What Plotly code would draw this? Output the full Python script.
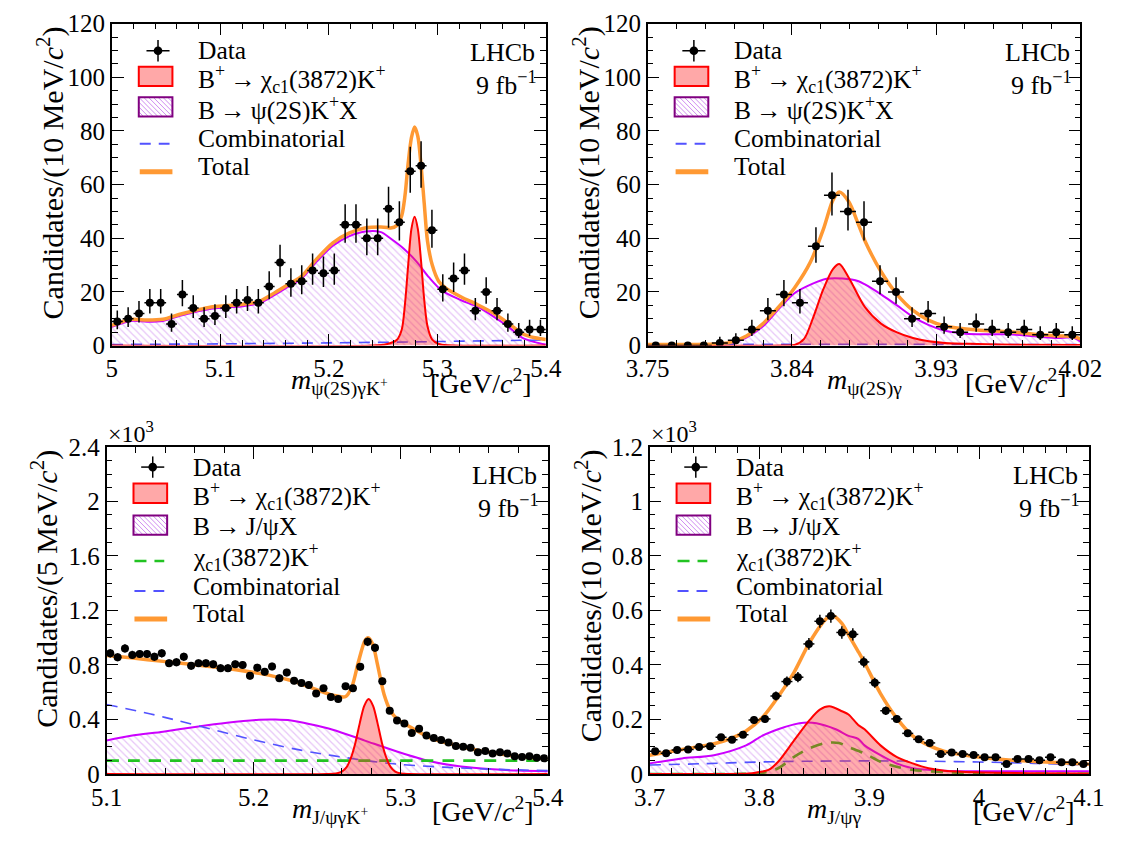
import numpy as np
import plotly.graph_objects as go

W, H = 1134, 849
SERIF = "Liberation Serif"

# ================= Top-left: m(psi(2S) gamma K+) =================
a_range = [5.0, 5.4]
a_nbins = 40
a_counts = [9, 10, 12, 16, 16, 8, 19, 14, 10, 11, 14, 16, 17, 16, 22, 31, 23, 24, 28, 27,
            28, 45, 45, 40, 40, 51, 46, 65, 67, 43, 21, 25, 28, 13, 20, 13, 8, 5, 6, 6]
a_err_hi = [4.1, 4.3, 4.6, 5.1, 5.1, 4.0, 5.4, 4.8, 4.3, 4.4, 4.8, 5.1, 5.2, 5.1, 5.7, 6.6, 5.8, 5.9, 6.3, 6.2,
            6.3, 7.7, 7.7, 7.4, 7.4, 8.2, 7.8, 9.1, 9.2, 7.6, 5.6, 6.0, 6.3, 4.7, 5.5, 4.7, 4.0, 3.4, 3.6, 3.6]
a_err_lo = [2.9, 3.1, 3.4, 4.0, 4.0, 2.8, 4.3, 3.7, 3.1, 3.3, 3.7, 4.0, 4.1, 4.0, 4.7, 5.5, 4.8, 4.9, 5.3, 5.2,
            5.3, 6.7, 6.7, 6.3, 6.3, 7.1, 6.8, 8.0, 8.2, 6.5, 4.6, 5.0, 5.3, 3.6, 4.4, 3.6, 2.8, 2.2, 2.4, 2.4]
a_mag_x = [5.000, 5.0176, 5.0324, 5.0471, 5.0619, 5.0767, 5.0915, 5.1062, 5.121, 5.1358, 5.1505, 5.1653,
           5.1742, 5.189, 5.2037, 5.2185, 5.2333, 5.248, 5.2569, 5.2688, 5.2806, 5.2924, 5.3042, 5.322,
           5.3367, 5.3515, 5.3661, 5.378, 5.39, 5.4]
a_mag_y = [7.0, 9.2, 8.9, 9.2, 11.0, 12.5, 13.7, 14.2, 14.7, 15.8, 19.0, 22.6,
           24.7, 31.4, 37.2, 40.7, 42.5, 42.3, 39.9, 36.2, 31.4, 25.4, 20.5, 16.9,
           14.5, 10.9, 6.8, 3.0, 1.3, 0.4]
a_sig_x = [5.0, 5.24, 5.2539, 5.2628, 5.2672, 5.2702, 5.2731, 5.2761, 5.279, 5.282, 5.285, 5.2879,
           5.2909, 5.2953, 5.3012, 5.31, 5.4]
a_sig_y = [0, 0, 0.6, 2.2, 6, 15.7, 30, 43.5, 48, 43.5, 31.4, 17, 7.2, 2.2, 0.6, 0.1, 0]
a_comb_x = [5.0, 5.1, 5.2, 5.3, 5.4]
a_comb_y = [0.4, 0.65, 1.0, 1.5, 2.1]
a_tot_x = [5.000, 5.0176, 5.0324, 5.0471, 5.0619, 5.0767, 5.0915, 5.1062, 5.121, 5.1358, 5.1505, 5.1653,
           5.1742, 5.189, 5.2037, 5.2185, 5.2333, 5.248, 5.2539, 5.2569, 5.2628, 5.2672, 5.2702, 5.2731,
           5.2761, 5.279, 5.282, 5.285, 5.2879, 5.2909, 5.2953, 5.3012, 5.3072, 5.322, 5.3367, 5.3515,
           5.3661, 5.378, 5.39, 5.4]
a_tot_y = [7.5, 9.8, 9.5, 9.8, 11.6, 13.1, 14.4, 14.9, 15.4, 16.5, 19.8, 23.4,
           25.6, 32.4, 38.3, 41.9, 43.8, 44.2, 44.0, 43.8, 44.8, 48.5, 56, 68,
           77.5, 81.5, 78, 67, 53, 39, 30, 24, 21.6, 18.1, 15.3, 12.1,
           8.1, 4.5, 2.9, 2.3]

# ================= Top-right: m(psi(2S) gamma) =================
b_range = [3.75, 4.02]
b_nbins = 27
b_counts = [0, 0, 0, 0, 1, 2, 6, 13, 19, 16, 37, 56, 50, 46, 24, 20, 10, 12, 7, 5, 8, 6, 5, 6, 4, 5, 4]
b_err_hi = [0, 0, 0, 0, 2.3, 2.6, 3.6, 4.7, 5.4, 5.1, 7.1, 8.5, 8.1, 7.8, 5.9, 5.5, 4.3, 4.6, 3.8, 3.4,
            4.0, 3.6, 3.4, 3.6, 3.2, 3.4, 3.2]
b_err_lo = [0, 0, 0, 0, 0.8, 1.3, 2.4, 3.6, 4.3, 4.0, 6.1, 7.5, 7.1, 6.8, 4.9, 4.4, 3.1, 3.4, 2.6, 2.2,
            2.8, 2.4, 2.2, 2.4, 1.9, 2.2, 1.9]
b_mag_x = [3.75, 3.7716, 3.7916, 3.8016, 3.8116, 3.8216, 3.8316, 3.8416, 3.8516, 3.8616, 3.8716, 3.8816,
           3.8856, 3.8956, 3.9056, 3.9156, 3.9255, 3.9355, 3.9455, 3.9555, 3.9756, 3.9955, 4.0056, 4.0155, 4.02]
b_mag_y = [0.1, 0.1, 0.2, 0.8, 3.0, 7.0, 13.5, 19.5, 22.7, 24.9, 25.0, 24.0,
           22.8, 19.1, 15.0, 10.7, 7.6, 5.5, 4.6, 4.2, 4.2, 3.2, 2.8, 3.0, 1.5]
b_sig_x = [3.75, 3.835, 3.8416, 3.8476, 3.8536, 3.8596, 3.8656, 3.8696, 3.8756, 3.8856, 3.8956, 3.9056,
           3.9156, 3.9255, 3.9355, 3.9555, 3.98, 4.02]
b_sig_y = [0, 0, 0.2, 2.5, 11.0, 21.0, 28.5, 30.4, 25.2, 14.3, 8.2, 4.9, 2.8, 1.6, 1.0, 0.6, 0.3, 0.2]
b_comb_x = [3.75, 3.9, 4.02]
b_comb_y = [0.5, 0.45, 0.4]
b_tot_x = [3.75, 3.7716, 3.7916, 3.8016, 3.8116, 3.8216, 3.8316, 3.8416, 3.8516, 3.8596, 3.8656, 3.8696,
           3.8756, 3.8816, 3.8856, 3.8956, 3.9056, 3.9156, 3.9255, 3.9355, 3.9555, 3.9756, 3.9955, 4.0056,
           4.0155, 4.02]
b_tot_y = [0.4, 0.4, 0.6, 1.2, 3.6, 8.0, 14.3, 21.5, 31.2, 43.3, 54.2, 57.2,
           53.5, 45.0, 39.0, 27.6, 19.1, 13.1, 9.4, 7.3, 5.8, 5.2, 4.0, 3.6,
           3.4, 2.5]

# ================= Bottom-left: m(J/psi gamma K+)  (x10^3) =================
c_range = [5.1, 5.4]
c_nbins = 60
c_counts = [0.885, 0.856, 0.921, 0.873, 0.880, 0.880, 0.860, 0.885, 0.812, 0.820,
            0.860, 0.793, 0.812, 0.812, 0.805, 0.776, 0.776, 0.805, 0.800, 0.720,
            0.780, 0.750, 0.788, 0.703, 0.744, 0.684, 0.667, 0.652, 0.590, 0.628,
            0.564, 0.550, 0.643, 0.628, 0.786, 0.969, 0.926, 0.681, 0.464, 0.393,
            0.371, 0.300, 0.331, 0.283, 0.264, 0.250, 0.231, 0.205, 0.200, 0.193,
            0.159, 0.169, 0.150, 0.159, 0.150, 0.131, 0.124, 0.130, 0.120, 0.115]
c_err = [0.030, 0.029, 0.030, 0.030, 0.030, 0.030, 0.029, 0.030, 0.028, 0.029,
         0.029, 0.028, 0.028, 0.028, 0.028, 0.028, 0.028, 0.028, 0.028, 0.027,
         0.028, 0.027, 0.028, 0.027, 0.027, 0.026, 0.026, 0.026, 0.024, 0.025,
         0.024, 0.023, 0.025, 0.025, 0.028, 0.031, 0.030, 0.026, 0.022, 0.020,
         0.019, 0.017, 0.018, 0.017, 0.016, 0.016, 0.015, 0.014, 0.014, 0.014,
         0.013, 0.013, 0.012, 0.013, 0.012, 0.011, 0.011, 0.011, 0.011, 0.011]
c_mag_x = [5.1, 5.1165, 5.1384, 5.1601, 5.1819, 5.2037, 5.2146, 5.2255, 5.2386, 5.2538, 5.2756, 5.2974,
           5.3192, 5.341, 5.3627, 5.38, 5.4]
c_mag_y = [0.245, 0.28, 0.31, 0.345, 0.376, 0.398, 0.40, 0.393, 0.365, 0.325, 0.245, 0.165,
           0.095, 0.055, 0.035, 0.025, 0.02]
c_sig_x = [5.1, 5.25, 5.256, 5.26, 5.2632, 5.2662, 5.2692, 5.2722, 5.2752, 5.2782, 5.2812, 5.2842,
           5.2872, 5.2902, 5.2932, 5.2962, 5.3002, 5.306, 5.4]
c_sig_y = [0, 0, 0.004, 0.018, 0.05, 0.12, 0.23, 0.375, 0.50, 0.55, 0.50, 0.375,
           0.23, 0.12, 0.05, 0.018, 0.004, 0, 0]
c_chi_x = [5.1, 5.25, 5.4]
c_chi_y = [0.098, 0.098, 0.098]
c_comb_x = [5.1, 5.13, 5.16, 5.2, 5.232, 5.2538, 5.2756, 5.3, 5.35, 5.4]
c_comb_y = [0.51, 0.44, 0.36, 0.25, 0.175, 0.135, 0.10, 0.07, 0.04, 0.025]
c_tot_x = [5.1, 5.1165, 5.1384, 5.1601, 5.1819, 5.2037, 5.2255, 5.232, 5.2386, 5.2429, 5.2538, 5.2626,
           5.2669, 5.2712, 5.2756, 5.2778, 5.281, 5.2843, 5.2887, 5.293, 5.2974, 5.3083, 5.3192, 5.3301,
           5.341, 5.3518, 5.3627, 5.3737, 5.3824, 5.4]
c_tot_y = [0.869, 0.852, 0.826, 0.802, 0.774, 0.738, 0.686, 0.662, 0.635, 0.618, 0.578, 0.568,
           0.643, 0.821, 0.976, 1.0, 0.952, 0.798, 0.583, 0.464, 0.405, 0.333, 0.269, 0.231,
           0.202, 0.174, 0.155, 0.138, 0.126, 0.112]

# ================= Bottom-right: m(J/psi gamma)  (x10^3) =================
d_range = [3.7, 4.1]
d_nbins = 40
d_counts = [0.083, 0.076, 0.088, 0.090, 0.099, 0.102, 0.135, 0.126, 0.144, 0.198,
            0.202, 0.286, 0.339, 0.355, 0.477, 0.560, 0.579, 0.519, 0.512, 0.411,
            0.335, 0.232, 0.202, 0.149, 0.127, 0.114, 0.073, 0.079, 0.073, 0.070,
            0.061, 0.061, 0.037, 0.055, 0.055, 0.050, 0.061, 0.043, 0.043, 0.037]
d_err = [0.0091, 0.0087, 0.0094, 0.0095, 0.0100, 0.0101, 0.0116, 0.0112, 0.0120, 0.0141,
         0.0142, 0.0169, 0.0184, 0.0188, 0.0218, 0.0237, 0.0241, 0.0228, 0.0226, 0.0203,
         0.0183, 0.0152, 0.0142, 0.0122, 0.0113, 0.0107, 0.0085, 0.0089, 0.0085, 0.0084,
         0.0078, 0.0078, 0.0061, 0.0074, 0.0074, 0.0071, 0.0078, 0.0066, 0.0066, 0.0061]
d_mag_x = [3.7, 3.7295, 3.7586, 3.7878, 3.8024, 3.817, 3.8315, 3.8403, 3.8519, 3.8694, 3.8811, 3.8899,
           3.8957, 3.9102, 3.9248, 3.9395, 3.9686, 4.0, 4.1]
d_mag_y = [0.039, 0.057, 0.069, 0.105, 0.14, 0.164, 0.182, 0.188, 0.186, 0.164, 0.14, 0.129,
           0.105, 0.069, 0.039, 0.021, 0.012, 0.01, 0.01]
d_sig_x = [3.7, 3.79, 3.7965, 3.8082, 3.817, 3.8315, 3.8461, 3.8549, 3.8636, 3.8752, 3.8811, 3.8899,
           3.8957, 3.9102, 3.9248, 3.9395, 3.954, 3.9686, 3.9977, 4.05, 4.1]
d_sig_y = [0, 0.002, 0.005, 0.015, 0.045, 0.123, 0.2, 0.236, 0.248, 0.23, 0.218, 0.18,
           0.164, 0.105, 0.063, 0.039, 0.021, 0.012, 0.006, 0.003, 0.002]
d_chi_x = [3.7, 3.79, 3.8024, 3.817, 3.8315, 3.8461, 3.8607, 3.8723, 3.8811, 3.8957, 3.9102, 3.9248,
           3.9395, 3.9686, 4.0, 4.1]
d_chi_y = [0, 0.001, 0.004, 0.021, 0.063, 0.095, 0.114, 0.114, 0.099, 0.075, 0.045, 0.027,
           0.015, 0.007, 0.002, 0.001]
d_comb_x = [3.7, 3.75, 3.8, 3.85, 3.9, 3.95, 4.0, 4.05, 4.1]
d_comb_y = [0.033, 0.038, 0.044, 0.047, 0.048, 0.047, 0.044, 0.039, 0.033]
d_tot_x = [3.7, 3.7295, 3.7586, 3.7732, 3.7878, 3.8024, 3.817, 3.8315, 3.8461, 3.8607, 3.8665, 3.8752,
           3.8811, 3.8898, 3.8957, 3.9102, 3.9248, 3.9395, 3.954, 3.9686, 3.9977, 4.0269, 4.0561, 4.0852, 4.1]
d_tot_y = [0.069, 0.09, 0.111, 0.129, 0.158, 0.206, 0.283, 0.373, 0.486, 0.569, 0.581, 0.551,
           0.51, 0.45, 0.408, 0.295, 0.206, 0.14, 0.105, 0.083, 0.063, 0.051, 0.045, 0.039, 0.036]

# ================= styling =================
C_SIG_FILL = "rgba(255,40,40,0.38)"
C_SIG = "#ff0000"
C_MAG = "#cc00ff"
C_HATCH = "#cf8cf0"
C_BOX = "#800080"
C_COMB = "#5252ff"
C_CHI = "#22c322"
C_TOT = "#ff9933"
LEG_SIZE = 25.5

# frames in pixels: left, right, top, bottom
FRAMES = {1: (93.5, 545, 11, 343.5), 2: (651, 1101, 11, 343.5),
          3: (88, 547, 448, 786), 4: (653, 1110, 448, 786)}
XSPEC = {1: (a_range, 0.1, 0.02), 2: (b_range, 0.09, 0.018), 3: (c_range, 0.1, 0.02), 4: (d_range, 0.1, 0.02)}
YSPEC = {1: ([0, 120], 20, 5), 2: ([0, 120], 20, 5), 3: ([0, 2.4], 0.4, 0.1), 4: ([0, 1.2], 0.2, 0.05)}

fig = go.Figure()


def panel(k, rng, nb, counts, ehi, elo, mag, comb, sig, tot, chi=None):
    xa = "x" if k == 1 else "x%d" % k
    ya = "y" if k == 1 else "y%d" % k
    kw = dict(xaxis=xa, yaxis=ya, showlegend=False, hoverinfo="skip")
    fig.add_trace(go.Scatter(x=mag[0], y=mag[1], mode="lines",
                             line=dict(color=C_MAG, width=2, shape="spline", smoothing=0.8),
                             fill="tozeroy",
                             fillpattern=dict(shape="\\", fgcolor=C_HATCH, bgcolor="rgba(255,255,255,0)",
                                              size=5, solidity=0.25), **kw))
    fig.add_trace(go.Scatter(x=comb[0], y=comb[1], mode="lines",
                             line=dict(color=C_COMB, width=1.6, dash="11px,8px", shape="spline"), **kw))
    if chi is not None:
        fig.add_trace(go.Scatter(x=chi[0], y=chi[1], mode="lines",
                                 line=dict(color=C_CHI, width=2.6, dash="12px,9px", shape="spline",
                                           smoothing=0.8), **kw))
    fig.add_trace(go.Scatter(x=sig[0], y=sig[1], mode="lines",
                             line=dict(color=C_SIG, width=2, shape="spline", smoothing=0.8),
                             fill="tozeroy", fillcolor=C_SIG_FILL, **kw))
    fig.add_trace(go.Scatter(x=tot[0], y=tot[1], mode="lines",
                             line=dict(color=C_TOT, width=3.5, shape="spline", smoothing=0.8), **kw))
    w = (rng[1] - rng[0]) / nb
    xc = rng[0] + w * (np.arange(nb) + 0.5)
    fig.add_trace(go.Scatter(x=xc, y=counts, mode="markers",
                             marker=dict(color="black", size=8),
                             error_y=dict(type="data", array=ehi, arrayminus=elo, symmetric=False,
                                          color="black", thickness=1.5, width=0),
                             error_x=dict(type="constant", value=w / 2, color="black", thickness=1.5, width=0),
                             **kw))


panel(1, a_range, a_nbins, a_counts, a_err_hi, a_err_lo, (a_mag_x, a_mag_y), (a_comb_x, a_comb_y),
      (a_sig_x, a_sig_y), (a_tot_x, a_tot_y))
panel(2, b_range, b_nbins, b_counts, b_err_hi, b_err_lo, (b_mag_x, b_mag_y), (b_comb_x, b_comb_y),
      (b_sig_x, b_sig_y), (b_tot_x, b_tot_y))
panel(3, c_range, c_nbins, c_counts, c_err, c_err, (c_mag_x, c_mag_y), (c_comb_x, c_comb_y),
      (c_sig_x, c_sig_y), (c_tot_x, c_tot_y), chi=(c_chi_x, c_chi_y))
panel(4, d_range, d_nbins, d_counts, d_err, d_err, (d_mag_x, d_mag_y), (d_comb_x, d_comb_y),
      (d_sig_x, d_sig_y), (d_tot_x, d_tot_y), chi=(d_chi_x, d_chi_y))


def axis(rng, dtick, mdtick, dom, anchor):
    return dict(range=rng, domain=dom, anchor=anchor, showline=True, linecolor="black", linewidth=1.5,
                mirror="allticks", ticks="inside", ticklen=12, tickwidth=1.3, tickcolor="black",
                tick0=rng[0], dtick=dtick,
                minor=dict(ticks="inside", ticklen=6, tickwidth=1.3, tickcolor="black",
                           tick0=rng[0], dtick=mdtick, showgrid=False),
                showgrid=False, zeroline=False, fixedrange=True,
                tickfont=dict(family=SERIF, size=25, color="black"))


layout = dict(width=W, height=H, margin=dict(l=0, r=0, t=0, b=0), paper_bgcolor="white",
              plot_bgcolor="white", showlegend=False)
for k, (l, r, t, b) in FRAMES.items():
    xs = "xaxis" if k == 1 else "xaxis%d" % k
    ys = "yaxis" if k == 1 else "yaxis%d" % k
    xa = "x" if k == 1 else "x%d" % k
    ya = "y" if k == 1 else "y%d" % k
    xr, xd, xm = XSPEC[k]
    yr, yd, ym = YSPEC[k]
    layout[xs] = axis(xr, xd, xm, [l / W, r / W], ya)
    layout[ys] = axis(yr, yd, ym, [1 - b / H, 1 - t / H], xa)
fig.update_layout(**layout)


# ---------------- annotations & legends (pixel helpers) ----------------
def P(x, y):
    return x / W, 1 - y / H


def ann(x, y, text, size, xanchor="left", yanchor="middle", angle=0):
    px, py = P(x, y)
    fig.add_annotation(x=px, y=py, xref="paper", yref="paper", text=text, showarrow=False,
                       xanchor=xanchor, yanchor=yanchor, textangle=angle, borderpad=0,
                       font=dict(family=SERIF, size=size, color="black"))


def line(x0, y0, x1, y1, color, width, dash=None):
    a0, b0 = P(x0, y0)
    a1, b1 = P(x1, y1)
    ln = dict(color=color, width=width)
    if dash:
        ln["dash"] = dash
    fig.add_shape(type="line", xref="paper", yref="paper", x0=a0, y0=b0, x1=a1, y1=b1, line=ln)


def rect(x0, y0, x1, y1, fill, lcolor, lwidth):
    a0, b0 = P(x0, y0)
    a1, b1 = P(x1, y1)
    fig.add_shape(type="rect", xref="paper", yref="paper", x0=a0, y0=b0, x1=a1, y1=b1,
                  fillcolor=fill, line=dict(color=lcolor, width=lwidth))


def circle(cx, cy, r):
    a0, b0 = P(cx - r, cy - r)
    a1, b1 = P(cx + r, cy + r)
    fig.add_shape(type="circle", xref="paper", yref="paper", x0=a0, y0=b0, x1=a1, y1=b1,
                  fillcolor="black", line=dict(color="black", width=0))


SIG_TXT = "B<sup>+</sup>\u2009→\u2009χ<sub>c1</sub>(3872)K<sup>+</sup>"
ROWS_TOP = [("data", "Data"), ("sig", SIG_TXT), ("hatch", "B\u2009→\u2009ψ(2S)K<sup>+</sup>X"),
            ("comb", "Combinatorial"), ("tot", "Total")]
ROWS_BOT = [("data", "Data"), ("sig", SIG_TXT), ("hatch", "B\u2009→\u2009J/ψX"),
            ("chi", "χ<sub>c1</sub>(3872)K<sup>+</sup>"), ("comb", "Combinatorial"), ("tot", "Total")]
SYM_TOP = [28, 54.5, 86, 124, 153]
TXT_TOP = [28, 57, 88, 119, 148]
SYM_BOT = [21, 48, 81, 118, 149, 178]
TXT_BOT = [21, 51, 82, 114, 144, 172]


def legend(k, rows, sym_dy, txt_dy):
    l, r, t, b = FRAMES[k]
    bx0, bx1 = l + 28, l + 63
    for (kind, text), sy, ty in zip(rows, sym_dy, txt_dy):
        ys = t + sy
        if kind == "data":
            cx = l + 48
            line(cx - 12, ys, cx + 12, ys, "black", 1.5)
            line(cx, ys - 11, cx, ys + 11, "black", 1.5)
            circle(cx, ys, 4.5)
        elif kind == "sig":
            rect(bx0, ys - 10, bx1, ys + 10, "#ffa8a8", C_SIG, 2)
        elif kind == "hatch":
            y0, y1 = ys - 10, ys + 10
            for c in np.arange(bx0 - y1, bx1 - y0, 5.0):
                xs0 = max(bx0, y0 + c)
                xs1 = min(bx1, y1 + c)
                if xs1 > xs0:
                    line(xs0, xs0 - c, xs1, xs1 - c, C_HATCH, 1)
            rect(bx0, y0, bx1, y1, "rgba(0,0,0,0)", C_BOX, 2)
        elif kind == "comb":
            line(bx0 + 1, ys, bx1 - 3, ys, C_COMB, 2, "11px,8px")
        elif kind == "chi":
            line(bx0 + 1, ys, bx1 - 3, ys, C_CHI, 2.6, "12px,8px")
        elif kind == "tot":
            line(bx0 + 1, ys, bx1, ys, C_TOT, 5)
        ann(l + 89, t + ty, text, LEG_SIZE)


legend(1, ROWS_TOP, SYM_TOP, TXT_TOP)
legend(2, ROWS_TOP, SYM_TOP, TXT_TOP)
legend(3, ROWS_BOT, SYM_BOT, TXT_BOT)
legend(4, ROWS_BOT, SYM_BOT, TXT_BOT)

# LHCb labels
for k in (1, 2, 3, 4):
    l, r, t, b = FRAMES[k]
    ann(r - 10, t + 30, "LHCb", 26, xanchor="right")
    ann(r - 8, t + 62, "9 fb<sup>−1</sup>", 26, xanchor="right")

# y-axis titles
YT = {1: "Candidates/(10 MeV/<i>c</i><sup>2</sup>)", 2: "Candidates/(10 MeV/<i>c</i><sup>2</sup>)",
      3: "Candidates/(5 MeV/<i>c</i><sup>2</sup>)", 4: "Candidates/(10 MeV/<i>c</i><sup>2</sup>)"}
for k in (1, 2, 3, 4):
    l, r, t, b = FRAMES[k]
    ann(l - 64, t + 2, YT[k], 30, xanchor="center", yanchor="top", angle=-90)

# x-axis titles
XT = {1: "<i>m</i><sub>ψ(2S)γK<sup>+</sup></sub>", 2: "<i>m</i><sub>ψ(2S)γ</sub>",
      3: "<i>m</i><sub>J/ψγK<sup>+</sup></sub>", 4: "<i>m</i><sub>J/ψγ</sub>"}
XT_CX = {1: 330, 2: 877, 3: 320, 4: 845}
for k in (1, 2, 3, 4):
    l, r, t, b = FRAMES[k]
    ann(XT_CX[k], b + 38, XT[k], 28, xanchor="center")
    ann(r - 13, b + 37, "[GeV/<i>c</i><sup>2</sup>]", 28, xanchor="right")

# x10^3 multipliers
for k in (3, 4):
    l, r, t, b = FRAMES[k]
    ann(l, t - 15, "×10<sup>3</sup>", 24, xanchor="left")

fig.write_html("out.html", config={"displayModeBar": False},
               post_script="document.body.style.margin='0px';")
